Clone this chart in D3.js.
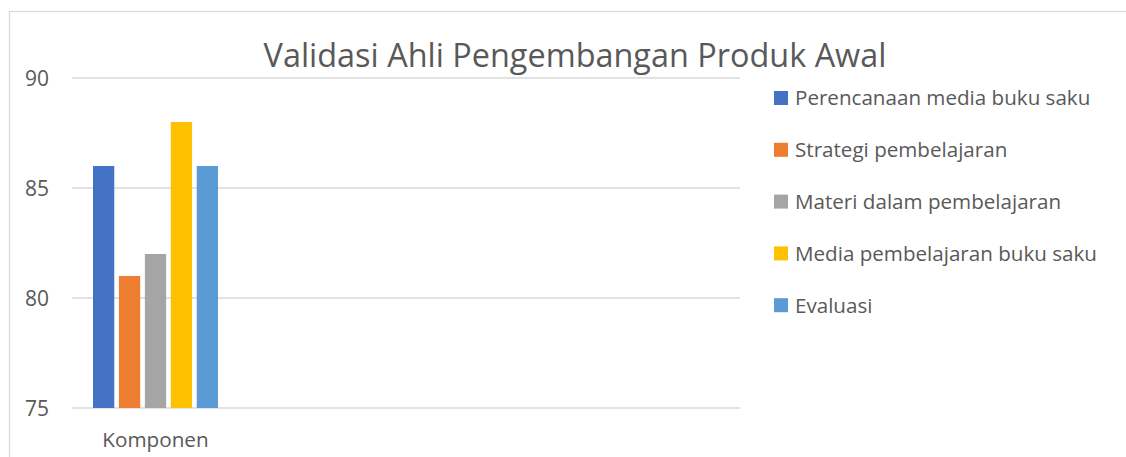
<!DOCTYPE html>
<html><head><meta charset="utf-8">
<script src="https://cdn.jsdelivr.net/npm/d3@7/dist/d3.min.js"></script>
<style>body{margin:0;background:#fff;overflow:hidden}text{font-family:"Open Sans",sans-serif;fill:#595959}</style>
</head><body><svg id="c" width="1126" height="457"></svg>
<script>
const title = "Validasi Ahli Pengembangan Produk Awal";
const categories = ["Komponen"];
const seriesNames = ["Perencanaan media buku saku","Strategi pembelajaran","Materi dalam pembelajaran","Media pembelajaran buku saku","Evaluasi"];
const seriesValues = [86, 81, 82, 88, 86];
const seriesColors = ["#4472C4","#ED7D31","#A5A5A5","#FFC000","#5B9BD5"];
const yTicks = [75, 80, 85, 90];
const categorySlots = 4;

const svg = d3.select("#c");
svg.append("rect").attr("x",9.5).attr("y",11.5).attr("width",1130).attr("height",460)
  .attr("fill","#fff").attr("stroke","#d9d9d9").attr("stroke-width",1.3);

const plot = {l:72, r:740, t:78, b:408};
const y = d3.scaleLinear().domain([75,90]).range([plot.b, plot.t]);
const x = d3.scaleBand().domain(d3.range(categorySlots)).range([plot.l, plot.r]).padding(0);
const xs = d3.scaleBand().domain(seriesNames).range([21, x.bandwidth()-21]).paddingInner(0.18).paddingOuter(0);

svg.append("g").selectAll("line").data(yTicks).join("line")
  .attr("x1",plot.l).attr("x2",plot.r).attr("y1",d=>y(d)).attr("y2",d=>y(d))
  .attr("stroke","#d9d9d9").attr("stroke-width",1.5);

svg.append("g").selectAll("text").data(yTicks).join("text")
  .attr("x",49).attr("y",d=>y(d)).attr("dy","0.36em").attr("text-anchor","end")
  .attr("font-size",21).text(d=>d);

categories.forEach((c,ci)=>{
  svg.append("g").selectAll("rect").data(seriesValues).join("rect")
    .attr("x",(d,i)=>x(ci)+xs(seriesNames[i])).attr("width",xs.bandwidth())
    .attr("y",d=>y(d)).attr("height",d=>y(75)-y(d))
    .attr("fill",(d,i)=>seriesColors[i]);
  svg.append("text").attr("x",x(ci)+x.bandwidth()/2).attr("y",447)
    .attr("text-anchor","middle").attr("font-size",20.7).text(c);
});

const t = svg.append("text").attr("x",575).attr("y",67).attr("text-anchor","middle")
  .attr("font-size",31).text(title);
const tw = t.node().getComputedTextLength();
t.attr("font-size",31*623/tw);

const lg = svg.append("g").selectAll("g").data(seriesNames).join("g")
  .attr("transform",(d,i)=>`translate(774,${98+i*51.8})`);
lg.append("rect").attr("x",0).attr("y",-7).attr("width",14).attr("height",14).attr("fill",(d,i)=>seriesColors[i]);
lg.append("text").attr("x",21).attr("y",0).attr("dy","0.36em").attr("font-size",20.6).text(d=>d);
</script></body></html>
